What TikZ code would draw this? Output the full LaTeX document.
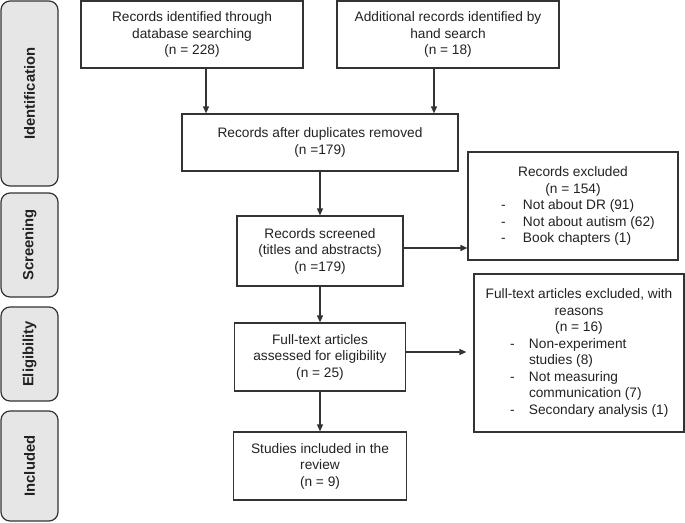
\documentclass[tikz,border=0pt]{standalone}
\usepackage{fontspec}
\setmainfont{Liberation Sans}
\usetikzlibrary{arrows.meta,calc}
\definecolor{ln}{HTML}{333333}
\definecolor{side}{HTML}{E6E6E6}
\definecolor{txt}{HTML}{222222}
\newcommand{\dashitem}[2]{\makebox[210pt][l]{\hspace*{#1pt}\makebox[\dimexpr55pt-#1pt\relax][l]{-}#2}}
\newcommand{\contline}[1]{\makebox[210pt][l]{\hspace*{55pt}#1}}
\newcommand{\ctrline}[1]{\makebox[210pt]{#1}}
\begin{document}
\begin{tikzpicture}[x=1pt,y=-1pt,
  font=\fontsize{13.7}{16.5}\selectfont,
  box/.style={draw=ln, line width=1.2pt, fill=white, inner sep=0pt, align=center, text=txt},
  arr/.style={draw=ln, line width=1.2pt, -{Triangle[length=7pt,width=6pt]}},
  sidebox/.style={draw=ln, line width=1.2pt, fill=side, rounded corners=9pt, rotate=90,
    minimum height=57pt, inner sep=0pt, text=txt,
    font=\fontsize{14.8}{16}\selectfont\bfseries}]
\useasboundingbox (0,0) rectangle (685,522);

% side labels
\node[sidebox, minimum width=185pt] (sId) at (29.5,93.5) {Identification};
\node[sidebox, minimum width=104pt] (sSc) at (29.5,245) {Screening};
\node[sidebox, minimum width=94pt]  (sEl) at (29.5,354) {Eligibility};
\node[sidebox, minimum width=110pt] (sIn) at (29.5,466) {Included};

% main boxes
\node[box, minimum width=222pt, minimum height=67pt] (A) at (192,34.5)
  {Records identified through\\database searching\\(n = 228)};
\node[box, minimum width=222pt, minimum height=67pt] (B) at (448,34.5)
  {Additional records identified by\\hand search\\(n = 18)};
\node[box, minimum width=276pt, minimum height=57pt] (C) at (320,142.5)
  {Records after duplicates removed\\(n =179)};
\node[box, minimum width=166pt, minimum height=70pt] (D) at (320,251)
  {Records screened\\(titles and abstracts)\\(n =179)};
\node[box, minimum width=171pt, minimum height=68pt] (F) at (320,357)
  {Full-text articles\\assessed for eligibility\\(n = 25)};
\node[box, minimum width=173pt, minimum height=68pt] (H) at (320,466)
  {Studies included in the\\review\\(n = 9)};

% exclusion boxes
\node[box, minimum width=210pt, minimum height=108pt] (E) at (573,206)
  {\ctrline{Records excluded}\\
   \ctrline{(n = 154)}\\
   \dashitem{33}{Not about DR (91)}\\
   \dashitem{33}{Not about autism (62)}\\
   \dashitem{33}{Book chapters (1)}};
\node[box, minimum width=210pt, minimum height=158pt] (G) at (579,353)
  {\ctrline{Full-text articles excluded, with}\\
   \ctrline{reasons}\\
   \ctrline{(n = 16)}\\
   \dashitem{36}{Non-experiment}\\
   \contline{studies (8)}\\
   \dashitem{36}{Not measuring}\\
   \contline{communication (7)}\\
   \dashitem{36}{Secondary analysis (1)}};

% connector guide coordinates
\coordinate (xa) at (206,0);
\coordinate (xb) at (434,0);
\coordinate (yd) at (0,248);
\coordinate (yf) at (0,352);

% connectors
\draw[arr] (A.south -| xa) -- (C.north -| xa);
\draw[arr] (B.south -| xb) -- (C.north -| xb);
\draw[arr] (C) -- (D);
\draw[arr] (D) -- (F);
\draw[arr] (F) -- (H);
\draw[arr] (D.east |- yd) -- (E.west |- yd);
\draw[arr, shorten >=7pt] (F.east |- yf) -- (G.west |- yf);
\end{tikzpicture}
\end{document}
